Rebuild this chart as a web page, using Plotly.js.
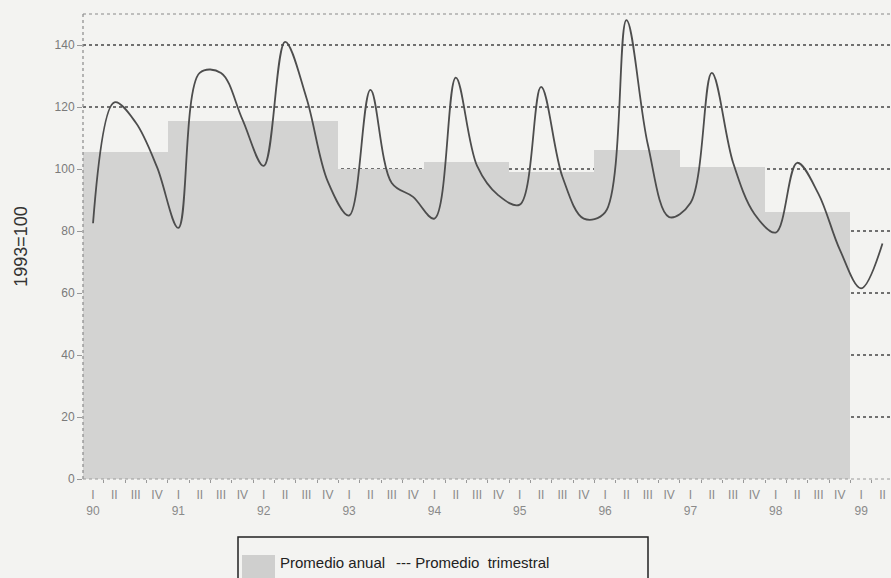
<!DOCTYPE html>
<html>
<head>
<meta charset="utf-8">
<script src="https://cdn.plot.ly/plotly-3.0.1.min.js"></script>
<style>
  html, body { margin: 0; padding: 0; background: #f3f3f1; }
  #chart { width: 891px; height: 578px; }
</style>
</head>
<body>
<div id="chart"></div>
<script>
// ---- Data ----
const years = ["90", "91", "92", "93", "94", "95", "96", "97", "98", "99"];
const annualYears = ["90", "91", "92", "93", "94", "95", "96", "97", "98"];
const annualAvg = [105.5, 115.5, 115.5, 100, 102.3, 99, 106, 100.6, 86];
const quarterNames = ["I", "II", "III", "IV"];
const quarterly = [
  82.5, 121.5, 115, 100.6, // 1990
  81, 131, 131, 116,       // 1991
  101, 141, 123, 96,       // 1992
  85, 125.5, 95.5, 91,     // 1993
  84, 129.5, 101, 91.5,    // 1994
  88.5, 126.5, 97.5, 84,   // 1995
  86, 148, 108, 84.5,      // 1996
  89, 131, 102, 85.5,      // 1997
  79.5, 102, 92, 74,       // 1998
  61.5, 76                 // 1999
];

// ---- Build positions on a quarter index axis ----
const qx = quarterly.map((_, i) => i);
const tickText = quarterly.map((_, i) => {
  const q = quarterNames[i % 4];
  return (i % 4 === 0) ? q + "<br>" + years[Math.floor(i / 4)] : q;
});
const barX = annualYears.map((_, k) => 4 * k + 1.5);

const FONT = "Liberation Sans, Arial, sans-serif";

const traces = [
  {
    type: "bar",
    x: barX,
    y: annualAvg,
    width: annualYears.map(() => 4),
    marker: { color: "#d3d3d2", line: { width: 0 } },
    name: "Promedio anual",
    showlegend: false,
    hoverinfo: "y"
  },
  {
    type: "scatter",
    mode: "lines",
    x: qx,
    y: quarterly,
    line: { color: "#4d4d4d", width: 1.8, shape: "spline", smoothing: 1.0 },
    name: "Promedio trimestral",
    showlegend: false
  }
];

// helpers for paper coords from pixel layout (plot area: x 83..891, y 14..479)
const px = v => (v - 83) / 808;
const py = v => (479 - v) / 465;

const layout = {
  width: 891,
  height: 578,
  margin: { l: 83, r: 0, t: 14, b: 99 },
  paper_bgcolor: "#f3f3f1",
  plot_bgcolor: "#f3f3f1",
  font: { family: FONT, color: "#777" },
  bargap: 0,
  xaxis: {
    range: [-0.47, 37.4],
    tickmode: "array",
    tickvals: qx,
    ticktext: tickText,
    ticks: "",
    showgrid: false,
    zeroline: false,
    showline: false,
    tickfont: { family: FONT, size: 12, color: "#8a8a8a" },
    ticklabelstandoff: 7,
    minor: { tick0: -0.5, dtick: 1, ticks: "outside", ticklen: 3, tickcolor: "#999", showgrid: false }
  },
  yaxis: {
    range: [0, 150],
    tickmode: "array",
    tickvals: [0, 20, 40, 60, 80, 100, 120, 140],
    ticks: "outside",
    ticklen: 5,
    tickcolor: "#999",
    showgrid: true,
    gridcolor: "#707070",
    griddash: "dot",
    gridwidth: 1.2,
    zeroline: false,
    showline: false,
    tickfont: { family: FONT, size: 12, color: "#7a7a7a" },
    title: { text: "1993=100", font: { family: FONT, size: 18, color: "#333" }, standoff: 22 }
  },
  shapes: [
    // plot frame (dotted)
    { type: "line", xref: "paper", yref: "paper", x0: 0, x1: 1, y0: 1, y1: 1, line: { color: "#8a8a8a", width: 1.2, dash: "dot" }, layer: "above" },
    { type: "line", xref: "paper", yref: "paper", x0: 0, x1: 0, y0: 0, y1: 1, line: { color: "#8a8a8a", width: 1.2, dash: "dot" }, layer: "above" },
    { type: "line", xref: "paper", yref: "paper", x0: 0, x1: 1, y0: 0, y1: 0, line: { color: "#9a9a9a", width: 1, dash: "dot" }, layer: "above" },
    // legend box
    { type: "rect", xref: "paper", yref: "paper", x0: px(238), x1: px(648), y0: py(598), y1: py(537), line: { color: "#222", width: 1.5 }, fillcolor: "rgba(0,0,0,0)" },
    // legend swatch
    { type: "rect", xref: "paper", yref: "paper", x0: px(242), x1: px(275), y0: py(580), y1: py(555), line: { width: 0 }, fillcolor: "#cfcfce" }
  ],
  annotations: [
    { xref: "paper", yref: "paper", x: px(278), y: py(562), xanchor: "left", yanchor: "middle", showarrow: false,
      text: "Promedio anual", font: { family: FONT, size: 15, color: "#222" } },
    { xref: "paper", yref: "paper", x: px(394), y: py(562), xanchor: "left", yanchor: "middle", showarrow: false,
      text: "--- Promedio  trimestral", font: { family: FONT, size: 15, color: "#222" } }
  ]
};

Plotly.newPlot("chart", traces, layout, { displayModeBar: false, staticPlot: true });
</script>
</body>
</html>
